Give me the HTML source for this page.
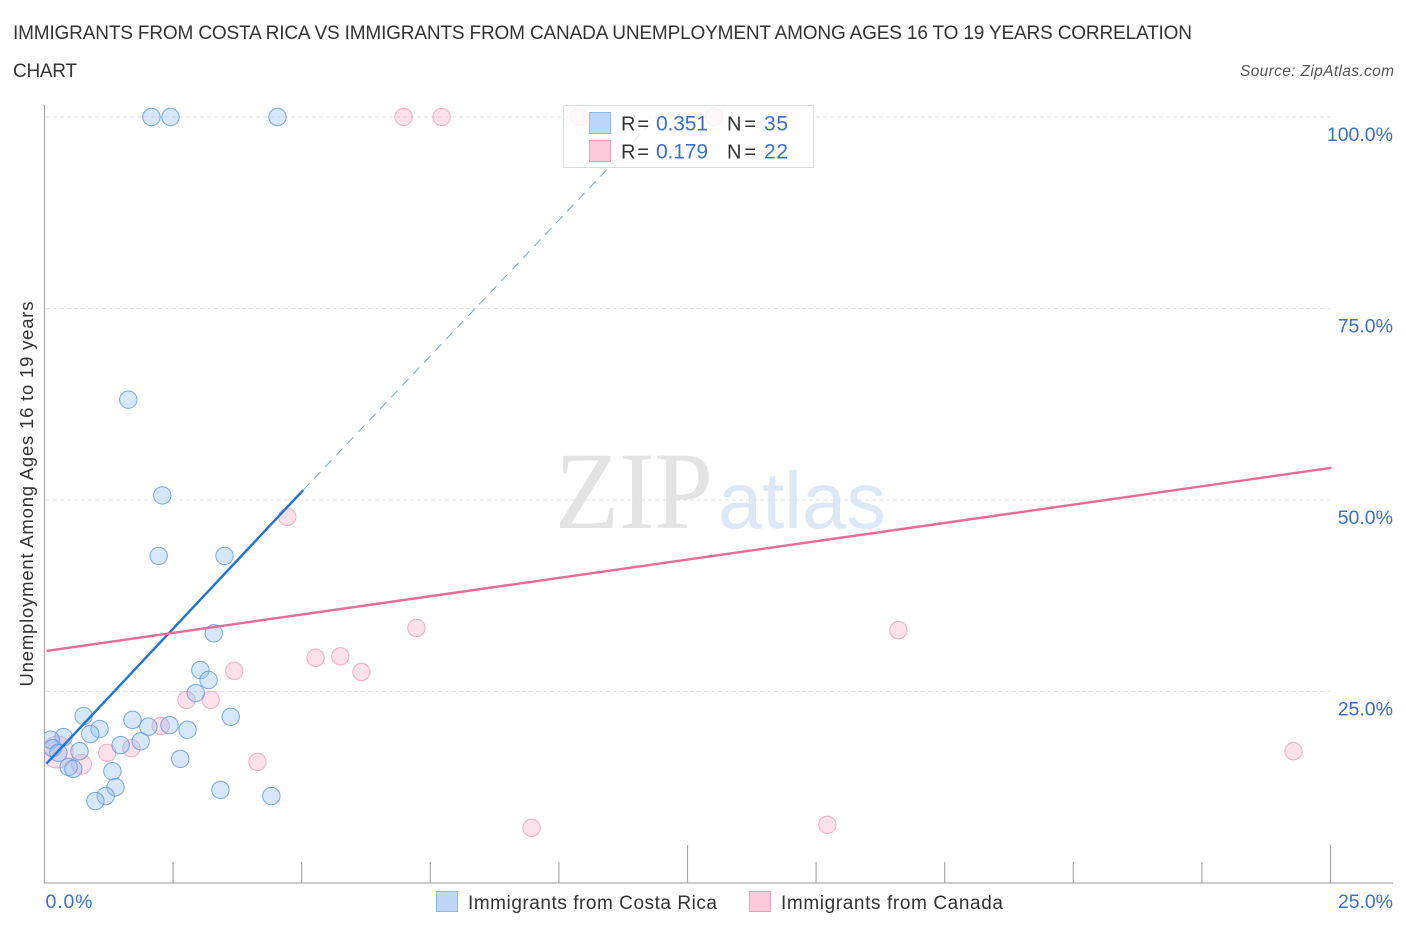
<!DOCTYPE html>
<html lang="en">
<head>
<meta charset="utf-8">
<title>Immigrants from Costa Rica vs Immigrants from Canada Unemployment Correlation Chart</title>
<style>
html,body{margin:0;padding:0;background:#fff;width:1406px;height:930px;overflow:hidden}
svg{display:block;font-family:"Liberation Sans",sans-serif}
</style>
</head>
<body>
<svg id="chart" xmlns="http://www.w3.org/2000/svg" width="1406" height="930" viewBox="0 0 1406 930">
  <defs>
    <clipPath id="plot-clip"><rect x="45" y="100" width="1300" height="783"/></clipPath>
  </defs>
  <rect width="1406" height="930" fill="#fff"/>
  <text x="13" y="39" font-size="19" fill="#333" textLength="1179">IMMIGRANTS FROM COSTA RICA VS IMMIGRANTS FROM CANADA UNEMPLOYMENT AMONG AGES 16 TO 19 YEARS CORRELATION</text>
  <text x="13" y="77" font-size="19" fill="#333" textLength="64">CHART</text>
  <text x="1394" y="76" font-size="15.500" font-style="italic" fill="#555" text-anchor="end" textLength="154">Source: ZipAtlas.com</text>

  <g>
    <text x="555" y="528" font-family="'Liberation Serif',serif" font-size="110" fill="#e3e3e3" textLength="158" lengthAdjust="spacingAndGlyphs">ZIP</text>
    <text x="718" y="528" font-size="80" fill="#dce8f8" textLength="168" lengthAdjust="spacingAndGlyphs">atlas</text>
  </g>

  <g id="grid"></g>
  <g id="axes">
    <line x1="44.5" y1="105" x2="44.5" y2="884" stroke="#aaa" stroke-width="1.2"/>
    <line x1="44" y1="883" x2="1393" y2="883" stroke="#bbb" stroke-width="1.4"/>
  </g>
  <g id="x-ticks"></g>
  <g id="y-labels"></g>
  <g id="x-labels"></g>

  <text transform="translate(33,494) rotate(-90)" font-size="18.5" fill="#333" text-anchor="middle" textLength="385">Unemployment Among Ages 16 to 19 years</text>

  <g id="pink-points" clip-path="url(#plot-clip)"></g>
  <g id="blue-points" clip-path="url(#plot-clip)"></g>
  <g id="trends"></g>

  <g>
    <rect x="563.5" y="105.5" width="250" height="62" fill="#fff" fill-opacity="0.8" stroke="#ddd" stroke-width="1"/>
    <rect x="589.5" y="112.5" width="21" height="21" fill="#bdd6fa" stroke="#8db8ee" stroke-width="1"/>
    <rect x="589.5" y="140.5" width="21" height="21" fill="#fcc8da" stroke="#f0a0bc" stroke-width="1"/>
    <text x="621" y="130.500" font-size="20" fill="#333" textLength="28">R =</text>
    <text x="656" y="130.500" font-size="21" fill="#3a6fd0" textLength="52">0.351</text>
    <text x="727" y="130.500" font-size="20" fill="#333" textLength="29">N =</text>
    <text x="764" y="130.500" font-size="21" fill="#3a6fd0" textLength="24">35</text>
    <text x="621" y="158.500" font-size="20" fill="#333" textLength="28">R =</text>
    <text x="656" y="158.500" font-size="21" fill="#3a6fd0" textLength="52">0.179</text>
    <text x="727" y="158.500" font-size="20" fill="#333" textLength="29">N =</text>
    <text x="764" y="158.500" font-size="21" fill="#3a6fd0" textLength="24">22</text>
  </g>

  <g>
    <rect x="436.500" y="891.500" width="21" height="20" fill="#bdd6fa" stroke="#8db8ee" stroke-width="1"/>
    <text x="468" y="909" font-size="19" fill="#333" textLength="249">Immigrants from Costa Rica</text>
    <rect x="749.500" y="891.500" width="21" height="20" fill="#fcc8da" stroke="#f0a0bc" stroke-width="1"/>
    <text x="781" y="909" font-size="19" fill="#333" textLength="222">Immigrants from Canada</text>
  </g>
</svg>
<script>
const yGridValues = [25, 50, 75, 100];
const yTickLabels = ["25.0%", "50.0%", "75.0%", "100.0%"];
const xTickValues = [0, 2.5, 5, 7.5, 10, 12.5, 15, 17.5, 20, 22.5, 25];
const xMajorTicks = [12.5, 25];
const xEdgeValues = [0, 25];
const xEdgeLabels = ["0.0%", "25.0%"];

const blueX = [2.08, 2.45, 4.53, 1.63, 2.29, 2.22, 3.50, 3.29, 3.03, 3.19, 2.94, 3.62, 0.76, 1.71, 2.02, 2.43, 2.78, 1.07, 0.89, 0.37, 1.48, 1.87, 0.68, 0.12, 0.16, 0.27, 0.47, 0.56, 1.32, 2.64, 1.38, 1.19, 0.99, 3.42, 4.41];
const blueY = [100, 100, 100, 63.1, 50.6, 42.7, 42.7, 32.6, 27.8, 26.5, 24.8, 21.7, 21.8, 21.3, 20.4, 20.6, 20.0, 20.1, 19.45, 19.05, 18.0, 18.5, 17.2, 18.7, 17.6, 17.0, 15.15, 14.9, 14.6, 16.2, 12.5, 11.35, 10.7, 12.15, 11.35];

const pinkX = [6.98, 7.72, 10.4, 13.02, 4.72, 7.23, 16.6, 5.27, 5.75, 6.16, 3.69, 2.76, 3.23, 2.26, 1.69, 1.22, 0.72, 4.14, 9.47, 15.22, 24.28, 0.25];
const pinkY = [100, 100, 100, 100, 47.8, 33.3, 33.0, 29.4, 29.6, 27.55, 27.7, 23.9, 23.9, 20.5, 17.6, 17.0, 15.5, 15.8, 7.2, 7.6, 17.2, 17.1];
const pinkWeight = [1, 1, 1, 1, 1, 1, 1, 1, 1, 1, 1, 1, 1, 1, 1, 1, 1.3, 1, 1, 1, 1, 3.4];

const blueTrendX = [0.04, 5.03];
const blueTrendY = [15.6, 51.3];
const blueDashX = [5.03, 11.9];
const blueDashY = [51.3, 100];
const pinkTrendX = [0.04, 25.02];
const pinkTrendY = [30.3, 54.2];

const NS = "http://www.w3.org/2000/svg";
function xScale(v) { return 44.5 + v * 51.44; }
function yScale(v) { return 883 - v * 7.66; }
function make(tag, attrs, parentId) {
  const el = document.createElementNS(NS, tag);
  for (const k in attrs) el.setAttribute(k, attrs[k]);
  document.getElementById(parentId).appendChild(el);
  return el;
}

yGridValues.forEach(function (v, i) {
  const line = make("line", {x1: 46, x2: 1330, y1: yScale(v), y2: yScale(v), stroke: "#e2e2e2", "stroke-width": 1, "stroke-dasharray": "4 3"}, "grid");
  
  
  const label = make("text", {x: 1393, y: yScale(v) + 24, "font-size": 19.5, fill: "#3a6fd0", "text-anchor": "end"}, "y-labels");
  label.textContent = yTickLabels[i];
  
  
});

xTickValues.forEach(function (v) {
  const top = xMajorTicks.indexOf(v) >= 0 ? 845 : 862;
  if (v === 0) return;
  const tick = make("line", {x1: xScale(v), x2: xScale(v), y1: top, y2: 883, stroke: "#aaa", "stroke-width": 1.2}, "x-ticks");
  
  
});

xEdgeValues.forEach(function (v, i) {
  const label = make("text", {x: i === 0 ? xScale(v) + 1 : 1393, y: 908, "font-size": 19.5, fill: "#3a6fd0", "text-anchor": i === 0 ? "start" : "end", textLength: i === 0 ? 47 : 55}, "x-labels");
  label.textContent = xEdgeLabels[i];
  
  
});

pinkX.forEach(function (v, i) {
  const c = make("circle", {cx: xScale(v), cy: yScale(pinkY[i]), r: 8.7 * Math.sqrt(pinkWeight[i]), fill: "#f8a8c4", "fill-opacity": 0.36, stroke: "#f090b0", "stroke-opacity": 0.7, "stroke-width": 1}, "pink-points");
  
  
});

blueX.forEach(function (v, i) {
  const c = make("circle", {cx: xScale(v), cy: yScale(blueY[i]), r: 8.7, fill: "#90bcf2", "fill-opacity": 0.36, stroke: "#5c94e0", "stroke-opacity": 0.8, "stroke-width": 1}, "blue-points");
  
  
});

const blueDash = make("line", {x1: xScale(blueDashX[0]), y1: yScale(blueDashY[0]), x2: xScale(blueDashX[1]), y2: yScale(blueDashY[1]), stroke: "#7aa6e0", "stroke-width": 1, "stroke-dasharray": "9 7"}, "trends");



const blueTrend = make("line", {x1: xScale(blueTrendX[0]), y1: yScale(blueTrendY[0]), x2: xScale(blueTrendX[1]), y2: yScale(blueTrendY[1]), stroke: "#2272d9", "stroke-width": 2.4}, "trends");



const pinkTrend = make("line", {x1: xScale(pinkTrendX[0]), y1: yScale(pinkTrendY[0]), x2: xScale(pinkTrendX[1]), y2: yScale(pinkTrendY[1]), stroke: "#ea6a98", "stroke-width": 2.4}, "trends");


</script>
</body>
</html>
